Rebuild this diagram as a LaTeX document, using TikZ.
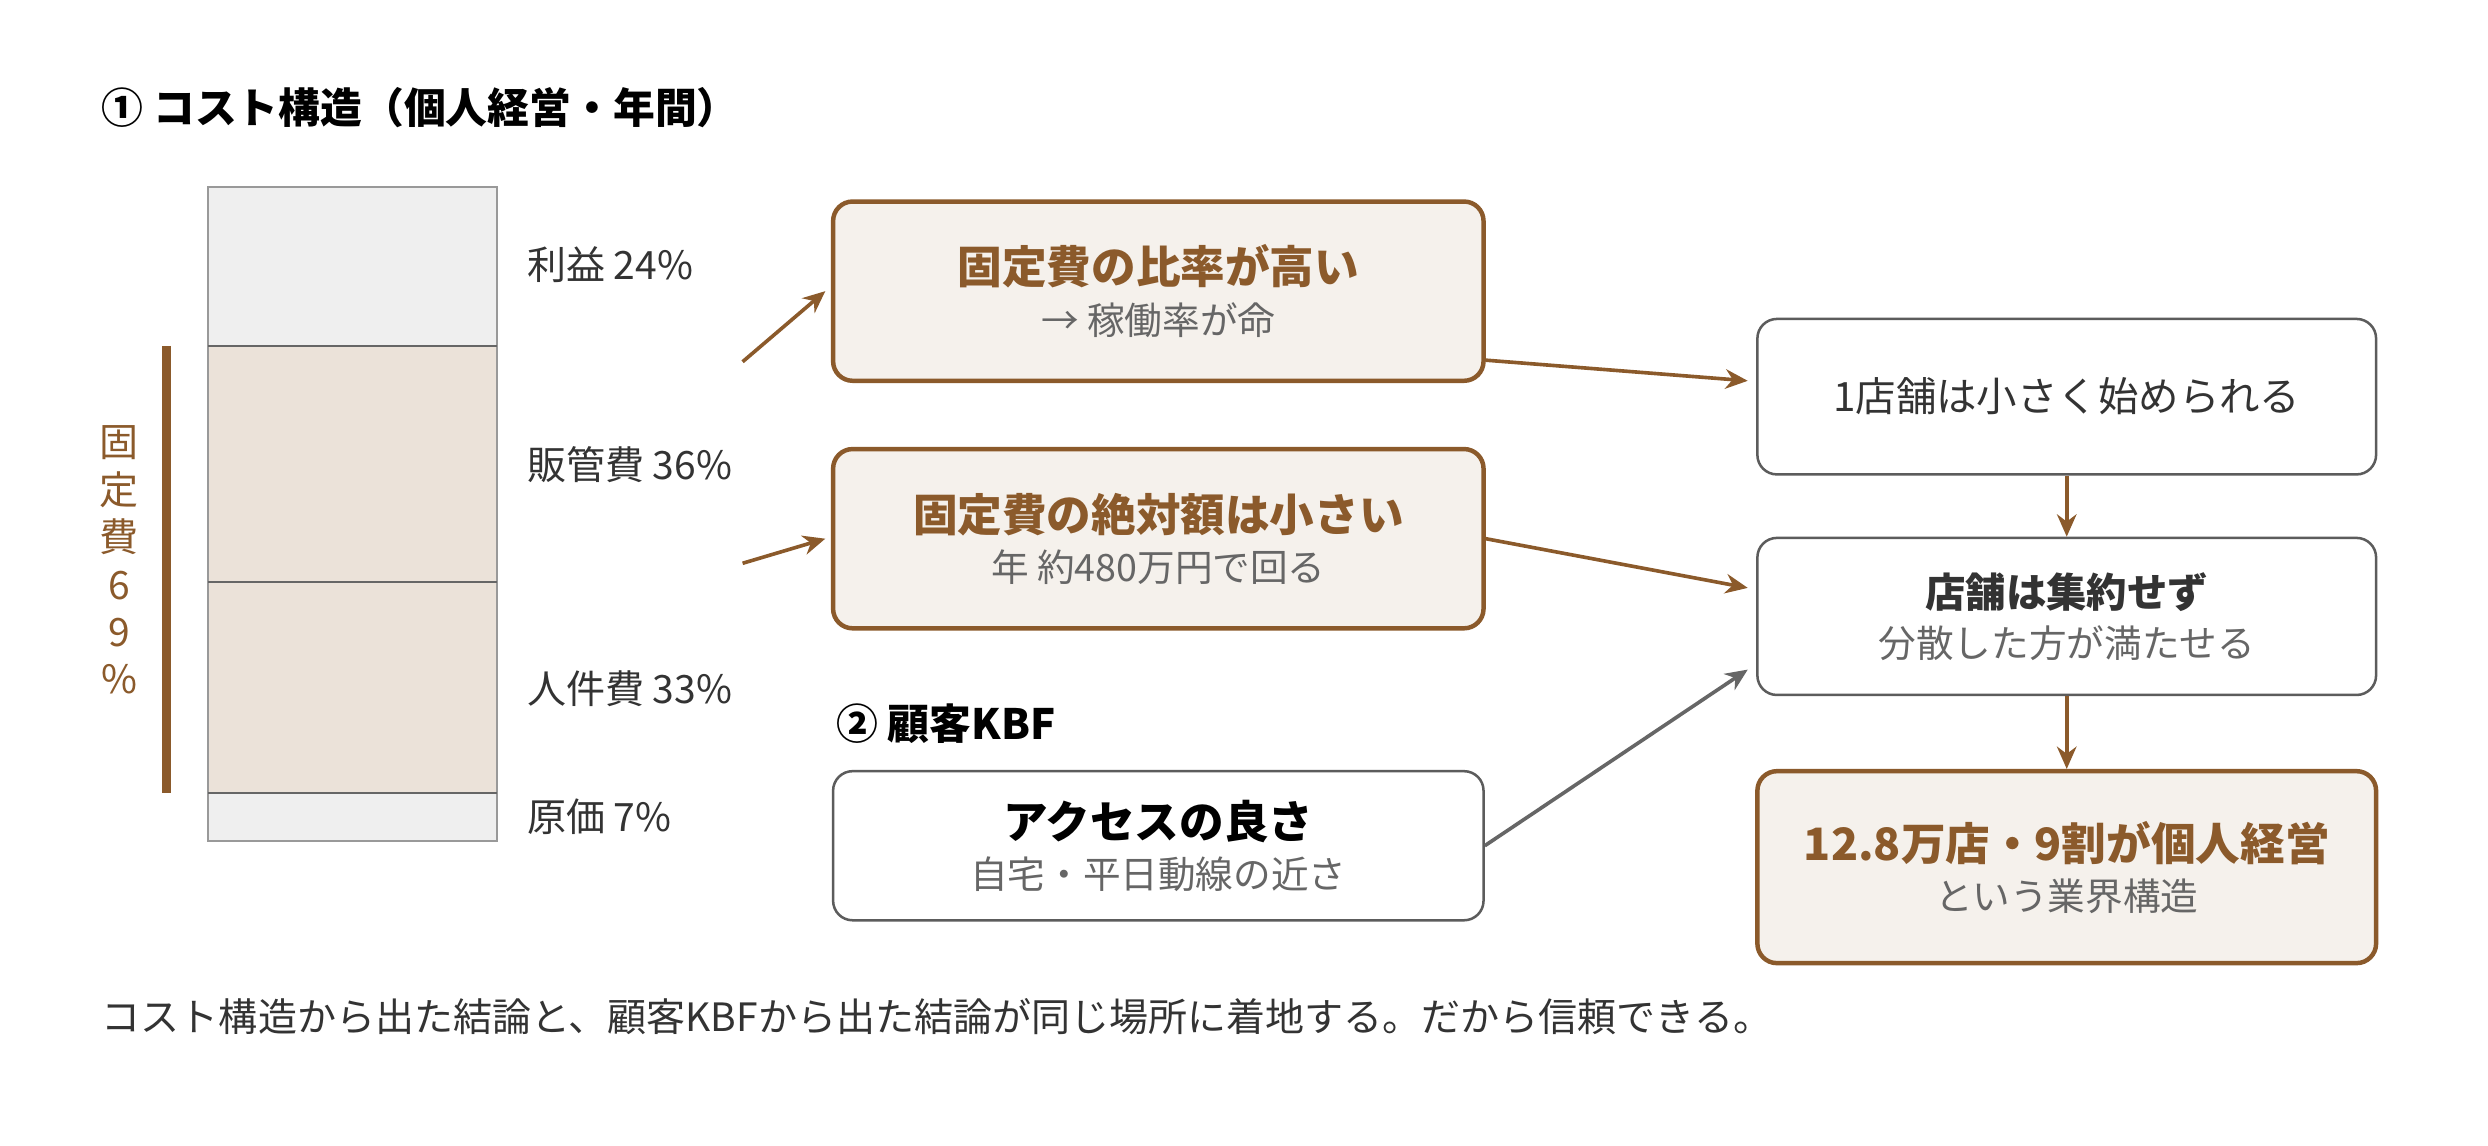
\documentclass[tikz,border=0pt]{standalone}
\usepackage{fontspec}
\setmainfont{Noto Sans CJK JP}
\usepackage{xcolor}
\usetikzlibrary{arrows.meta, positioning}
\definecolor{brn}{HTML}{8B5A2B}
\definecolor{beige}{HTML}{F5F1EC}
\definecolor{seg}{HTML}{EBE2D9}
\definecolor{lite}{HTML}{EFEFEF}
\definecolor{txt}{HTML}{333333}
\definecolor{sub}{HTML}{666666}
\tikzset{
  hot/.style={rectangle, rounded corners=7pt, draw=brn, line width=1.6pt, fill=beige, minimum width=8.2cm, align=center, text=txt},
  cool/.style={rectangle, rounded corners=7pt, draw=txt!80, line width=0.9pt, fill=white, minimum width=7.8cm, align=center, text=txt},
  link/.style={-{Stealth[length=8pt,width=7pt]}, brn, line width=1.3pt},
  lbl/.style={anchor=west, font=\fontsize{14}{16}\selectfont, text=txt},
}
\newcommand{\hd}[2]{{\fontsize{16}{18}\selectfont\bfseries\color{#1}#2}}
\newcommand{\subln}[1]{{\fontsize{13.5}{16}\selectfont\color{sub}#1}}
\begin{document}
\begin{tikzpicture}[x=0.02cm, y=-0.02cm]
    \useasboundingbox[fill=white] (0,0) rectangle (1568,722);
    % Title
    \node[anchor=west, font=\fontsize{15}{18}\selectfont\bfseries, text=black] (t1) at (58,68) {① コスト構造（個人経営・年間）};
    % Stacked bar
    \fill[lite] (131,118) rectangle (313,218);
    \fill[seg] (131,218) rectangle (313,500);
    \fill[lite] (131,500) rectangle (313,530);
    \draw[gray!80, line width=0.8pt] (131,118) rectangle (313,530);
    \draw[sub, line width=0.8pt] (131,218) -- (313,218) (131,367) -- (313,367) (131,500) -- (313,500);
    \node[lbl] (l1) at (326,167) {利益 24\%};
    \node[lbl] (l2) at (326,293) {販管費 36\%};
    \node[lbl] (l3) at (326,434) {人件費 33\%};
    \node[lbl] (l4) at (326,515) {原価 7\%};
    % Fixed cost bracket
    \draw[brn, line width=3pt] (105,218) -- (105,500);
    \node[text=brn, align=center, font=\fontsize{14}{17}\selectfont] (fx) at (75,353) {固\\定\\費\\6\\9\\\%};
    % Left boxes
    \node[hot, minimum height=2.26cm] (a) at (730,183.5) {\hd{brn}{固定費の比率が高い}\\[4pt]\subln{→ 稼働率が命}};
    \node[hot, minimum height=2.26cm] (b) at (730,339.5) {\hd{brn}{固定費の絶対額は小さい}\\[4pt]\subln{年 約480万円で回る}};
    \node[anchor=west, font=\fontsize{15}{18}\selectfont\bfseries, text=black] (t2) at (521,456) {② 顧客KBF};
    \node[cool, minimum width=8.2cm, minimum height=1.88cm] (c) at (730,533) {\hd{black}{アクセスの良さ}\\[4pt]\subln{自宅・平日動線の近さ}};
    % Right boxes
    \node[cool, minimum height=1.96cm, font=\fontsize{14.5}{17}\selectfont] (d) at (1302.5,250) {1店舗は小さく始められる};
    \node[cool, minimum height=1.98cm] (e) at (1302.5,388.5) {{\fontsize{14.5}{17}\selectfont\bfseries 店舗は集約せず}\\[4pt]\subln{分散した方が満たせる}};
    \node[hot, minimum width=7.8cm, minimum height=2.42cm] (f) at (1302.5,546.5) {\hd{brn}{12.8万店・9割が個人経営}\\[4pt]\subln{という業界構造}};
    % Connectors
    \coordinate (p1) at (468,228);
    \coordinate (p2) at (468,355);
    \draw[link] (p1) -- ([xshift=-2pt]a.west);
    \draw[link] (p2) -- ([xshift=-2pt]b.west);
    \draw[link] ([yshift=-0.87cm]a.east) -- ([xshift=-3pt, yshift=0.2cm]d.west);
    \draw[link] (b.east) -- ([xshift=-3pt, yshift=0.36cm]e.west);
    \draw[link, sub] (c.east) -- ([xshift=-3pt, yshift=-0.67cm]e.west);
    \draw[link] (d) -- (e);
    \draw[link] (e) -- (f);
    % Footer
    \node[anchor=west, font=\fontsize{14}{17}\selectfont, text=txt] (ft) at (58,641) {コスト構造から出た結論と、顧客KBFから出た結論が同じ場所に着地する。だから信頼できる。};
\end{tikzpicture}
\end{document}
